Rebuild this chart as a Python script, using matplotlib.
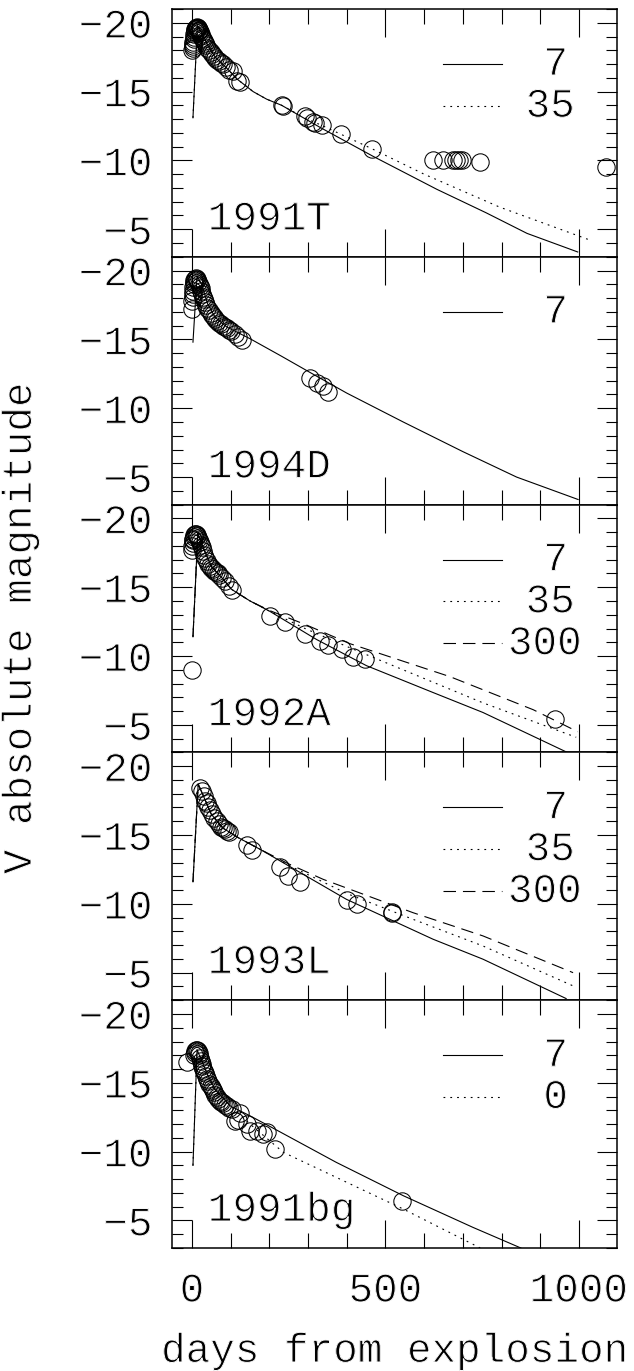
import matplotlib
matplotlib.use("Agg")
import matplotlib.pyplot as plt
from matplotlib.ticker import FixedLocator, FixedFormatter, MultipleLocator
import matplotlib.transforms as mtransforms
import matplotlib.patheffects as pe

plt.rcParams['font.family'] = ['Liberation Mono', 'DejaVu Sans']
plt.rcParams['lines.scale_dashes'] = False

# ---------------- data ----------------
sn_names = ['1991T', '1994D', '1992A', '1993L', '1991bg']

xtick_values = [0, 500, 1000]
xtick_labels = ['0', '500', '1000']
ytick_values = [-20, -15, -10, -5]
ytick_labels = ['\u221220', '\u221215', '\u221210', '\u22125']

# observations (days from explosion, V absolute magnitude)
obs_1991T_day = [1, 1.5, 2, 2.5, 3, 4, 5, 6, 7, 8, 9, 10, 11, 12, 13, 14, 15, 16, 17, 18, 19, 20,
                 22, 24, 26, 28, 30, 33, 36, 40, 44, 48, 52, 56, 60, 65, 70, 75, 80, 88, 95, 106,
                 117, 124, 232, 236, 292, 297, 313, 318, 335, 385, 465, 623, 649, 674, 682, 690,
                 698, 744, 1070]
obs_1991T_mag = [-18.0, -18.15, -18.3, -18.45, -18.6, -18.8, -19.0, -19.2, -19.35, -19.5, -19.55,
                 -19.6, -19.65, -19.65, -19.7, -19.65, -19.6, -19.6, -19.5, -19.45, -19.4, -19.3,
                 -19.2, -19.05, -18.9, -18.8, -18.65, -18.5, -18.35, -18.2, -18.0, -17.85, -17.7,
                 -17.55, -17.45, -17.3, -17.2, -17.1, -17.0, -16.8, -16.6, -16.5, -15.8, -15.7,
                 -14.0, -13.95, -13.2, -13.1, -12.8, -12.75, -12.6, -11.9, -10.8, -10.0, -10.0,
                 -10.0, -10.0, -10.0, -10.0, -9.9, -9.5]

obs_1994D_day = [0, 1, 1.5, 2, 2.5, 3, 4, 5, 6, 8, 10, 12, 14, 16, 18, 20, 22, 24, 26, 28, 30, 33,
                 36, 40, 44, 48, 52, 56, 60, 65, 70, 75, 80, 85, 90, 95, 100, 110, 120, 130,
                 305, 322, 339, 351]
obs_1994D_mag = [-17.2, -17.8, -18.1, -18.3, -18.5, -18.8, -19.0, -19.15, -19.3, -19.4, -19.45,
                 -19.4, -19.35, -19.2, -19.05, -18.9, -18.7, -18.5, -18.3, -18.1, -17.9, -17.7,
                 -17.5, -17.3, -17.1, -16.9, -16.75, -16.6, -16.5, -16.35, -16.2, -16.1, -16.0,
                 -15.9, -15.8, -15.7, -15.6, -15.4, -15.2, -14.95, -12.2, -11.85, -11.6, -11.2]

obs_1992A_day = [0, 0, 1, 1.5, 2, 3, 4, 6, 8, 10, 12, 14, 16, 18, 20, 22, 25, 28, 31, 34, 38, 42,
                 46, 50, 54, 58, 62, 66, 70, 77, 85, 95, 103, 201, 240, 292, 331, 351, 388, 417,
                 447, 938]
obs_1992A_mag = [-9.0, -17.7, -18.0, -18.2, -18.4, -18.5, -18.65, -18.8, -18.85, -18.85, -18.8,
                 -18.7, -18.6, -18.45, -18.3, -18.1, -17.9, -17.6, -17.35, -17.1, -16.9, -16.7,
                 -16.55, -16.4, -16.3, -16.2, -16.1, -16.0, -15.9, -15.7, -15.45, -15.1, -14.8,
                 -12.9, -12.5, -11.6, -11.1, -10.8, -10.5, -9.9, -9.75, -5.4]

obs_1993L_day = [20, 25, 30, 34, 38, 42, 46, 52, 58, 64, 70, 75, 80, 85, 90, 95, 141, 155, 227,
                 248, 279, 400, 426, 516, 518]
obs_1993L_mag = [-18.4, -18.2, -17.8, -17.5, -17.3, -17.0, -16.8, -16.5, -16.2, -16.0, -15.8,
                 -15.6, -15.5, -15.4, -15.3, -15.2, -14.3, -13.9, -12.7, -12.0, -11.6, -10.3,
                 -10.0, -9.4, -9.35]

obs_1991bg_day = [-12, 5, 7, 9, 11, 13, 15, 17, 19, 21, 23, 25, 27, 29, 31, 33, 36, 39, 42, 45,
                  48, 51, 54, 57, 60, 64, 68, 72, 76, 80, 85, 90, 95, 103, 111, 119, 124, 141,
                  150, 167, 184, 193, 214, 542]
obs_1991bg_mag = [-16.5, -17.0, -17.2, -17.3, -17.35, -17.35, -17.3, -17.2, -17.0, -16.8, -16.6,
                  -16.4, -16.2, -16.0, -15.85, -15.7, -15.5, -15.3, -15.1, -14.9, -14.75, -14.6,
                  -14.45, -14.3, -14.15, -14.0, -13.85, -13.7, -13.6, -13.5, -13.4, -13.3, -13.2,
                  -13.1, -12.2, -12.3, -12.8, -12.0, -11.5, -11.5, -11.3, -11.4, -10.2, -6.4]

# model light curves (label = parameter value)
mod_1991T_7_day = [2.5, 14, 25, 40, 60, 90, 117, 158, 193, 232, 331, 468, 633, 760, 866, 997]
mod_1991T_7_mag = [-13.1, -19.8, -19.3, -18.4, -17.5, -16.7, -15.9, -15.0, -14.45, -14.0, -12.4,
                   -10.3, -7.9, -6.2, -4.7, -3.35]
mod_1991T_35_day = [2.5, 14, 25, 40, 60, 90, 117, 158, 193, 232, 290, 335, 385, 465, 600, 796, 1030]
mod_1991T_35_mag = [-13.1, -19.8, -19.3, -18.4, -17.5, -16.7, -15.9, -15.0, -14.45, -14.0, -13.1,
                    -12.55, -11.9, -10.85, -9.0, -6.6, -4.2]

mod_1994D_7_day = [2.5, 13, 25, 40, 60, 90, 150, 230, 305, 400, 546, 700, 839, 998]
mod_1994D_7_mag = [-14.8, -19.6, -19.0, -17.6, -16.6, -15.9, -15.05, -13.8, -12.6, -11.1, -9.0,
                   -6.85, -5.0, -3.37]

mod_1992A_7_day = [2.5, 15, 30, 50, 80, 102, 150, 201, 322, 451, 623, 752, 970]
mod_1992A_7_mag = [-11.4, -18.9, -17.8, -16.5, -15.6, -14.85, -14.0, -13.25, -11.2, -9.3, -7.35,
                   -5.9, -3.0]
mod_1992A_35_day = [2.5, 15, 30, 50, 80, 102, 150, 201, 292, 408, 494, 752, 993]
mod_1992A_35_mag = [-11.4, -18.9, -17.8, -16.5, -15.6, -14.85, -14.0, -13.25, -12.0, -10.6,
                    -9.6, -6.6, -4.1]
mod_1992A_300_day = [2.5, 15, 30, 50, 80, 102, 150, 201, 292, 408, 667, 882, 997]
mod_1992A_300_mag = [-11.4, -18.9, -17.8, -16.5, -15.6, -14.85, -14.0, -13.3, -12.3, -10.9,
                     -8.5, -6.1, -4.5]

mod_1993L_7_day = [2.5, 16, 30, 50, 80, 120, 176, 399, 623, 752, 967]
mod_1993L_7_mag = [-11.6, -18.7, -17.8, -16.5, -15.5, -14.8, -13.96, -10.33, -7.43, -5.98, -3.12]
mod_1993L_35_day = [2.5, 16, 30, 50, 80, 120, 176, 250, 400, 571, 752, 985]
mod_1993L_35_mag = [-11.6, -18.7, -17.8, -16.5, -15.5, -14.8, -13.96, -12.8, -10.75, -8.88,
                    -6.94, -4.04]
mod_1993L_300_day = [2.5, 16, 30, 50, 80, 120, 176, 250, 339, 571, 752, 985]
mod_1993L_300_mag = [-11.6, -18.7, -17.8, -16.5, -15.5, -14.8, -13.96, -12.9, -11.78, -9.36,
                     -7.67, -5.0]

mod_1991bg_7_day = [2.5, 13, 25, 40, 60, 100, 150, 214, 373, 546, 726, 850]
mod_1991bg_7_mag = [-9.0, -17.4, -16.6, -15.6, -14.5, -13.3, -12.6, -11.64, -9.22, -6.8, -4.5,
                    -3.0]
mod_1991bg_0_day = [2.5, 13, 25, 40, 60, 100, 150, 236, 546, 745]
mod_1991bg_0_mag = [-9.0, -17.4, -16.6, -15.6, -14.5, -13.3, -12.0, -9.95, -5.83, -3.0]

# ---------------- assemble ----------------
observations = {
    '1991T': (obs_1991T_day, obs_1991T_mag),
    '1994D': (obs_1994D_day, obs_1994D_mag),
    '1992A': (obs_1992A_day, obs_1992A_mag),
    '1993L': (obs_1993L_day, obs_1993L_mag),
    '1991bg': (obs_1991bg_day, obs_1991bg_mag),
}
models = {
    '1991T': [('7', mod_1991T_7_day, mod_1991T_7_mag), ('35', mod_1991T_35_day, mod_1991T_35_mag)],
    '1994D': [('7', mod_1994D_7_day, mod_1994D_7_mag)],
    '1992A': [('7', mod_1992A_7_day, mod_1992A_7_mag), ('35', mod_1992A_35_day, mod_1992A_35_mag),
              ('300', mod_1992A_300_day, mod_1992A_300_mag)],
    '1993L': [('7', mod_1993L_7_day, mod_1993L_7_mag), ('35', mod_1993L_35_day, mod_1993L_35_mag),
              ('300', mod_1993L_300_day, mod_1993L_300_mag)],
    '1991bg': [('7', mod_1991bg_7_day, mod_1991bg_7_mag), ('0', mod_1991bg_0_day, mod_1991bg_0_mag)],
}
style_for = {'7': '-', '35': (0, (1.3, 3.6)), '300': (0, (9, 5)), '0': (0, (1.3, 3.6))}

# thin the glyph strokes slightly so the type looks like the light plotting font
THIN = [pe.Normal(), pe.Stroke(linewidth=0.7, foreground='white')]

FS = 29.5
W, H = 634, 1371
fig = plt.figure(figsize=(W / 100, H / 100), dpi=100)
left, right = 172 / W, 617 / W
top, bottom = 1 - 9 / H, 1 - 1248 / H
ph = (top - bottom) / 5

legend_rows = [0.778, 0.609, 0.440]

for i, name in enumerate(sn_names):
    ax = fig.add_axes([left, top - (i + 1) * ph, right - left, ph])
    ax.set_xlim(-51.7, 1098.5)
    ax.set_ylim(-3.0, -21.0)

    for lab, d, m in models[name]:
        ax.plot(d, m, color='black', lw=0.8, linestyle=style_for[lab], zorder=2)
    od, om = observations[name]
    ax.plot(od, om, linestyle='none', marker='o', ms=12.5, mfc='none', mec='black',
            mew=0.75, zorder=3)

    tr = mtransforms.blended_transform_factory(ax.transData, ax.transAxes)
    for j, (lab, d, m) in enumerate(models[name]):
        yrow = legend_rows[j]
        ax.plot([648, 801], [yrow, yrow], transform=tr, color='black', lw=0.8,
                linestyle=style_for[lab], zorder=2)
        xc = 940 - (len(lab) - 1) * 14
        ax.text(xc, yrow, lab, transform=tr, ha='center', va='center', fontsize=FS,
                path_effects=THIN)

    ax.text(41, 0.109, name, transform=tr, ha='left', va='baseline', fontsize=FS,
            path_effects=THIN)

    ax.xaxis.set_major_locator(FixedLocator(xtick_values))
    ax.xaxis.set_minor_locator(MultipleLocator(100))
    ax.yaxis.set_major_locator(FixedLocator(ytick_values))
    ax.yaxis.set_major_formatter(FixedFormatter(ytick_labels))
    ax.yaxis.set_minor_locator(MultipleLocator(1))
    ax.tick_params(which='both', direction='in', top=True, right=True, width=0.8,
                   labelsize=FS)
    ax.tick_params(axis='x', which='major', length=20, pad=17)
    ax.tick_params(axis='x', which='minor', length=11)
    ax.tick_params(axis='y', which='major', length=14.5, pad=14)
    ax.tick_params(axis='y', which='minor', length=8)
    if i < len(sn_names) - 1:
        ax.tick_params(axis='x', labelbottom=False)
    else:
        ax.xaxis.set_major_formatter(FixedFormatter(xtick_labels))
    for lbl in ax.get_xticklabels() + ax.get_yticklabels():
        lbl.set_path_effects(THIN)
    for sp in ax.spines.values():
        sp.set_linewidth(1.1)

fig.text(395 / W, 1 - 1351 / H, 'days from explosion', ha='center', va='center', fontsize=FS,
         path_effects=THIN)
fig.text(20 / W, 1 - 628 / H, 'V absolute magnitude', ha='center', va='center',
         rotation=90, fontsize=FS, path_effects=THIN)

fig.savefig('out.png', dpi=100)
